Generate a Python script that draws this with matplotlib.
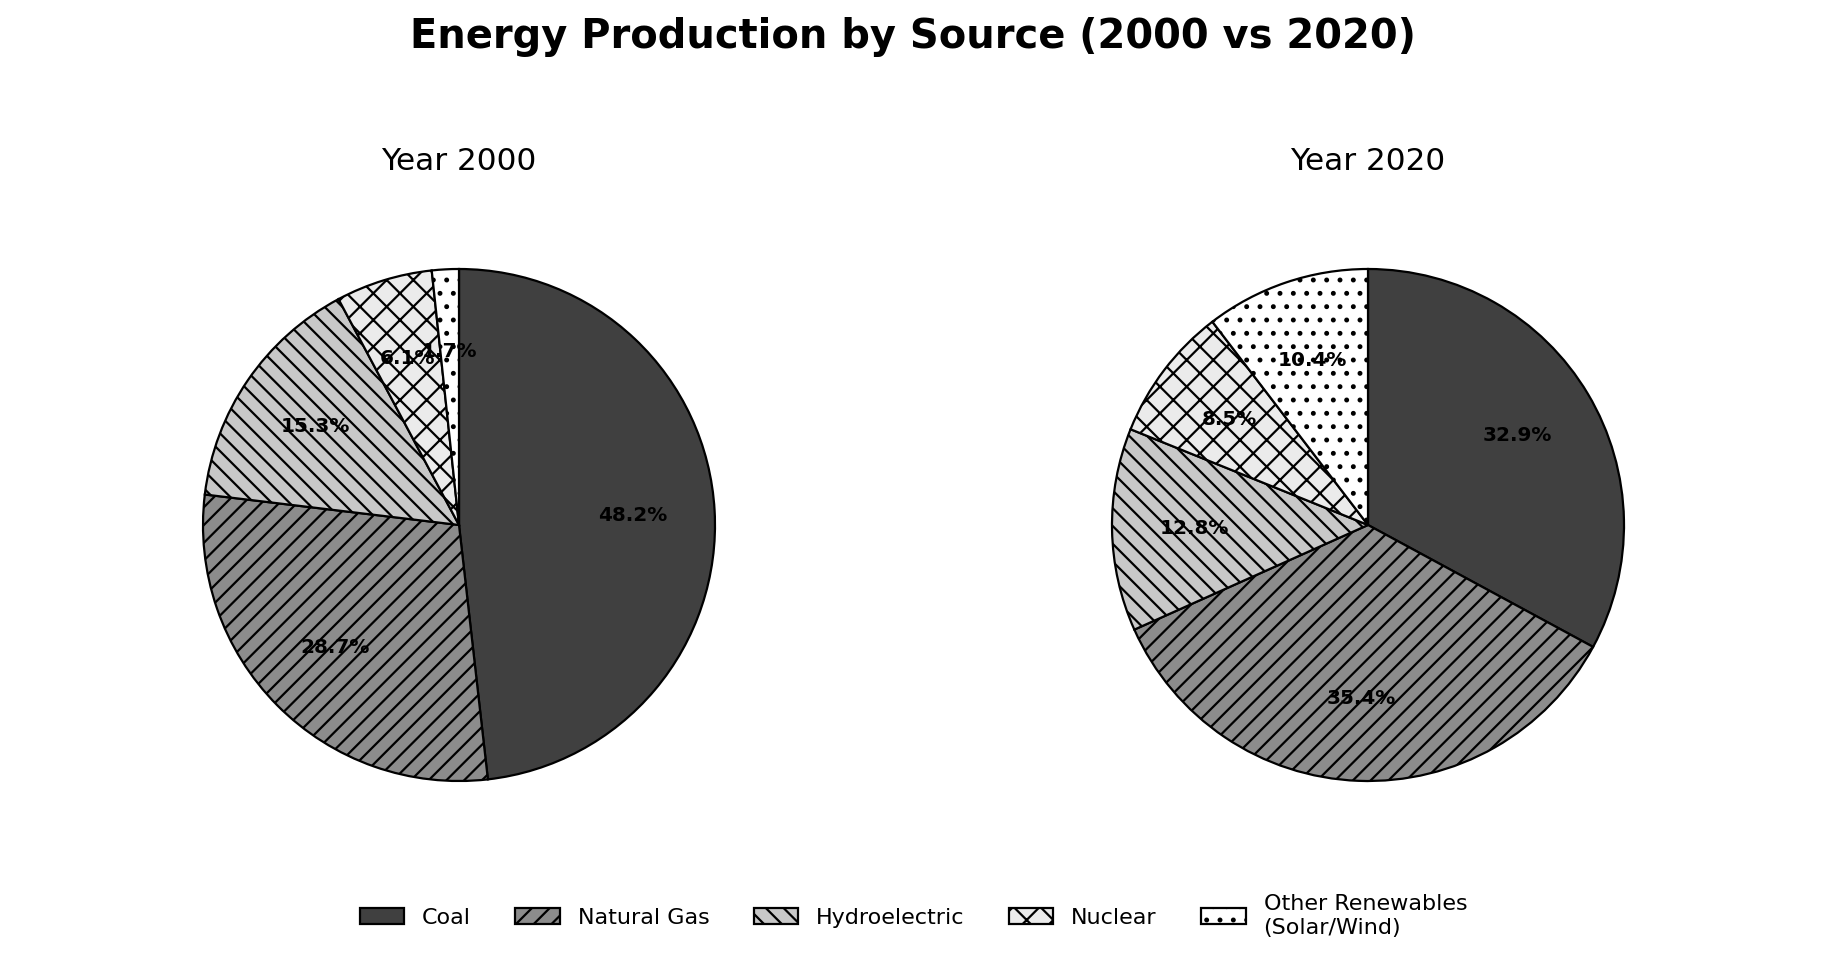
import matplotlib
matplotlib.use("Agg")
import matplotlib.pyplot as plt

sources = ["Coal", "Natural Gas", "Hydroelectric", "Nuclear", "Other Renewables\n(Solar/Wind)"]
share_2000 = [48.2, 28.7, 15.3, 6.1, 1.7]
share_2020 = [32.9, 35.4, 12.8, 8.5, 10.4]
years = ["Year 2000", "Year 2020"]

colors = ["#404040", "#8c8c8c", "#c8c8c8", "#ebebeb", "#ffffff"]
hatches = ["", "///", "\\\\\\", "xx", ".."]

plt.rcParams['hatch.linewidth'] = 1.0
plt.rcParams['font.family'] = ['DejaVu Sans']

DPI = 160
W, H = 1827, 962
fig = plt.figure(figsize=(W / DPI, H / DPI), dpi=DPI)
R = 256
size = 2.5 * R
centers = [(459, 525), (1368, 525)]

axes = []
for (cx, cy) in centers:
    ax = fig.add_axes([(cx - size / 2) / W, (H - cy - size / 2) / H, size / W, size / H])
    axes.append(ax)

wedges_all = None
for ax, vals, title in zip(axes, [share_2000, share_2020], years):
    wedges, texts, autotexts = ax.pie(
        vals, colors=colors, startangle=90, counterclock=False,
        autopct='%1.1f%%', pctdistance=0.68,
        wedgeprops=dict(edgecolor='black', linewidth=1.0),
        textprops=dict(fontsize=9, fontweight='bold', color='black'))
    for w, h in zip(wedges, hatches):
        w.set_hatch(h)
    ax.set_aspect('equal')
    ax.set_title(title, fontsize=14, pad=15.6)
    if wedges_all is None:
        wedges_all = wedges

fig.suptitle("Energy Production by Source (2000 vs 2020)", fontsize=18, fontweight='bold', y=1 - 37 / H, va='center')

fig.legend(wedges_all, sources, loc='center', bbox_to_anchor=(0.5, 1 - 916 / H),
           ncol=5, frameon=False, fontsize=10, handlelength=2.0, columnspacing=2.0)

fig.savefig("out.png", dpi=DPI)
